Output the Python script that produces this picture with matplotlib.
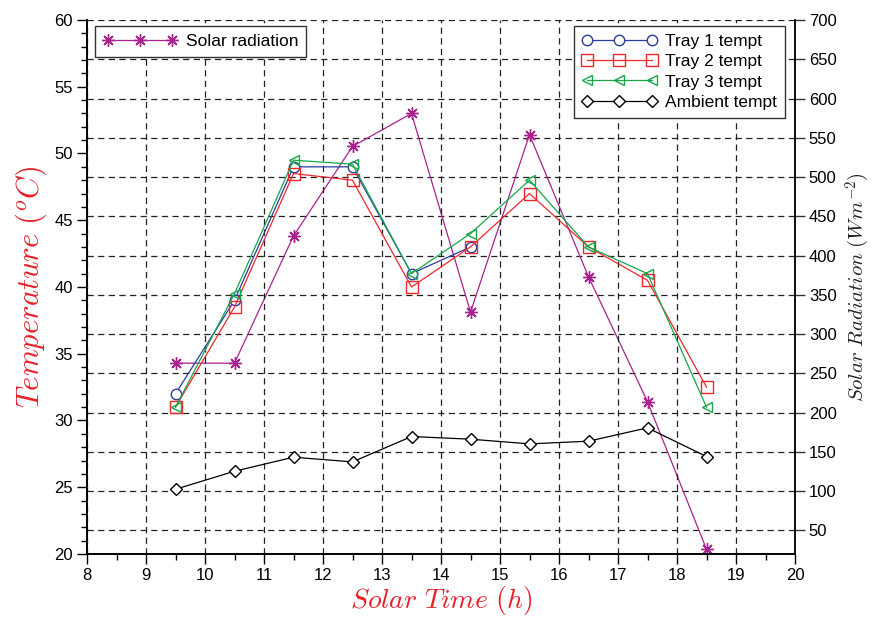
import matplotlib
matplotlib.use("Agg")
import matplotlib.pyplot as plt
from matplotlib.ticker import MultipleLocator

plt.rcParams['font.family'] = ['Liberation Sans', 'DejaVu Sans']
plt.rcParams['mathtext.fontset'] = 'cm'

hours = [9.5, 10.5, 11.5, 12.5, 13.5, 14.5, 15.5, 16.5, 17.5, 18.5]
tray1 = [32.0, 39.0, 49.0, 49.0, 41.0, 43.0]
tray2 = [31.0, 38.5, 48.5, 48.0, 40.0, 43.0, 47.0, 43.0, 40.5, 32.5]
tray3 = [31.0, 39.5, 49.5, 49.2, 41.0, 44.0, 48.0, 43.0, 41.0, 31.0]
ambient = [24.85, 26.2, 27.25, 26.9, 28.8, 28.6, 28.25, 28.45, 29.45, 27.3]
solar = [263, 263, 425, 539, 581, 328, 554, 373, 214, 26]

x_ticks = list(range(8, 21))
temp_ticks = list(range(20, 61, 5))
rad_ticks = list(range(50, 701, 50))

fig = plt.figure(figsize=(8.72, 6.18), dpi=100)
ax = fig.add_axes([87/872, 64/618, (795-87)/872, (554-20)/618])
ax2 = ax.twinx()
ax.set_zorder(ax2.get_zorder() + 1)
ax.patch.set_visible(False)

blue = '#2a3c9e'
red = '#f0262c'
green = '#17a748'
mag = '#a8228f'

lw = 0.9
l1, = ax.plot(hours[:len(tray1)], tray1, color=blue, lw=lw, marker='o', ms=7.5,
              mfc='white', mec=blue, mew=1.0, label='Tray 1 tempt')
l2, = ax.plot(hours, tray2, color=red, lw=lw, marker='s', ms=8.5,
              mfc='none', mec=red, mew=1.0, label='Tray 2 tempt')
l3, = ax.plot(hours, tray3, color=green, lw=lw, marker='<', ms=7,
              mfc='none', mec=green, mew=1.0, label='Tray 3 tempt')
l4, = ax.plot(hours, ambient, color='black', lw=lw, marker='D', ms=6.5,
              mfc='white', mec='black', mew=1.0, label='Ambient tempt')
ls, = ax2.plot(hours, solar, color=mag, lw=lw, marker=(8, 2, 0), ms=9,
               mec=mag, mew=1.0, label='Solar radiation')

ax.set_xlim(8, 20)
ax.set_ylim(20, 60)
ax2.set_ylim(20, 700)

ax.set_xticks(x_ticks)
ax.xaxis.set_minor_locator(MultipleLocator(0.5))
ax.set_yticks(temp_ticks)
ax.yaxis.set_minor_locator(MultipleLocator(1))
ax2.set_yticks(rad_ticks)

for a in (ax, ax2):
    a.tick_params(which='major', direction='out', length=7, width=1, labelsize=12, pad=3)
    a.tick_params(which='minor', direction='out', length=4, width=1)
    a.spines['top'].set_visible(False)
    for s in a.spines.values():
        s.set_linewidth(1.2)
ax2.spines['right'].set_color('#555555')
ax2.tick_params(axis='y', colors='#333333', labelcolor='black')

grid_kw = dict(color='#222222', linestyle=(0, (5, 3.5)), linewidth=0.9)
ax.xaxis.grid(True, **grid_kw)
ax2.yaxis.grid(True, **grid_kw)

ax.set_xlabel(r'$Solar\ Time\ (h)$', color='#e8202a', fontsize=20, labelpad=1)
ax.set_ylabel(r'$Temperature\ (^oC)$', color='#e8202a', fontsize=22, labelpad=4)
ax2.set_ylabel(r'$Solar\ Radiation\ (Wm^{-2})$', color='#222222', fontsize=15, labelpad=5)

leg_kw = dict(fancybox=False, edgecolor='#333333', framealpha=1, numpoints=3,
              handlelength=4.3, fontsize=12.5, borderpad=0.45, labelspacing=0.3,
              handletextpad=0.5, borderaxespad=0)
leg1 = ax.legend(handles=[ls], loc='upper left', bbox_to_anchor=(0.0113, 0.989), **leg_kw)
leg1.get_frame().set_linewidth(1.0)
ax.add_artist(leg1)
leg2 = ax.legend(handles=[l1, l2, l3, l4], loc='upper right',
                 bbox_to_anchor=(0.986, 0.989), **leg_kw)
leg2.get_frame().set_linewidth(1.0)

fig.savefig('out.png', dpi=100)
